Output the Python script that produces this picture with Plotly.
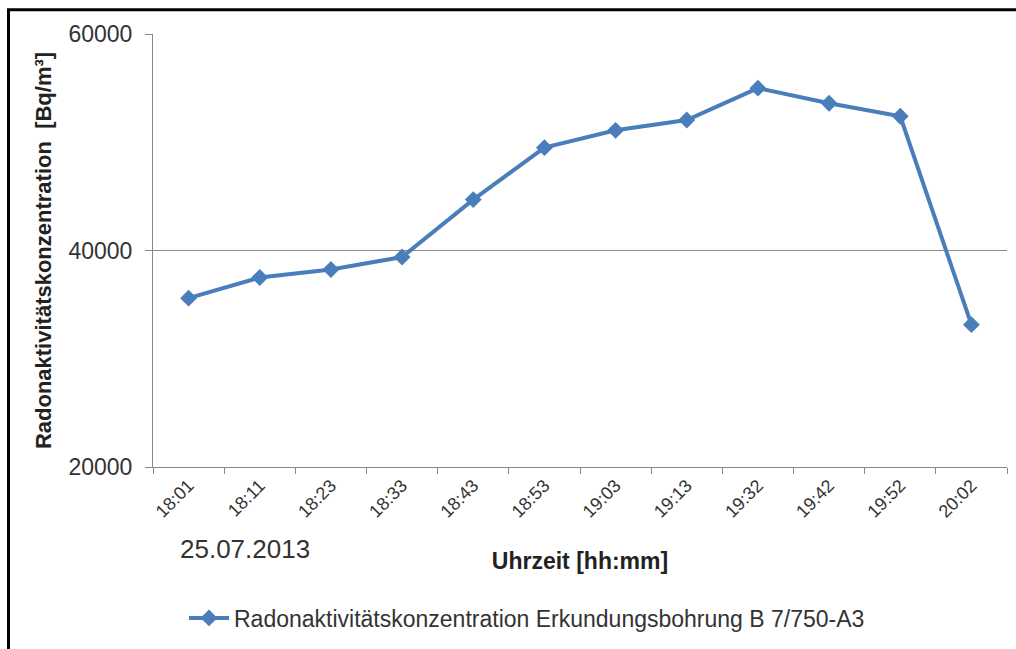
import plotly.graph_objects as go

# Measurement times (hh:mm) on 25.07.2013
times = ["18:01", "18:11", "18:23", "18:33", "18:43", "18:53",
         "19:03", "19:13", "19:32", "19:42", "19:52", "20:02"]
# Radon activity concentration in Bq/m³
radon = [35600, 37500, 38250, 39400, 44700, 49500,
         51100, 52050, 55000, 53600, 52400, 33150]

series_name = "Radonaktivitätskonzentration Erkundungsbohrung B 7/750-A3"
y_ticks = [20000, 40000, 60000]

W, H = 1016, 649
L, R, T, B = 153, 9, 34, 179
pw, ph = W - L - R, H - T - B


def px(x):
    return (x - L) / pw


def py(y):
    return (H - B - y) / ph


FONT = "Arial, Liberation Sans, sans-serif"
BLUE = "#4a7ebb"

fig = go.Figure()
fig.add_trace(go.Scatter(
    x=times, y=radon, mode="lines+markers", name=series_name,
    line=dict(color=BLUE, width=4),
    marker=dict(symbol="diamond", size=13, color=BLUE),
))

fig.update_layout(
    width=W, height=H,
    margin=dict(l=L, r=R, t=T, b=B, pad=0),
    paper_bgcolor="white", plot_bgcolor="white",
    font=dict(family=FONT, color="#333333"),
    showlegend=True,
    legend=dict(orientation="h", x=px(184), xanchor="left",
                y=py(622), yanchor="middle",
                font=dict(size=23, color="#333333", family=FONT),
                itemwidth=40, bgcolor="rgba(0,0,0,0)"),
    xaxis=dict(
        type="category", tickson="boundaries", ticks="outside",
        ticklen=6, tickcolor="#888888", tickwidth=1,
        showline=True, linecolor="#888888", linewidth=1,
        showgrid=False, tickangle=-45,
        tickfont=dict(size=18, color="#333333"),
        range=[-0.5, len(times) - 0.5],
        title=dict(text="<b>Uhrzeit [hh:mm]</b>", font=dict(size=23, color="#222222"),
                   standoff=32),
    ),
    yaxis=dict(
        range=[20000, 60000], tickvals=y_ticks,
        ticktext=[str(v) for v in y_ticks],
        ticks="outside", ticklen=7, tickcolor="#888888",
        ticklabelstandoff=8,
        showline=True, linecolor="#888888", linewidth=1,
        showgrid=True, gridcolor="#8c8c8c", gridwidth=1,
        zeroline=False,
        tickfont=dict(size=23, color="#333333"),
        title=dict(text="<b>Radonaktivitätskonzentration  [Bq/m³]</b>",
                   font=dict(size=22, color="#222222"), standoff=10),
    ),
)

# date note below the first time labels
fig.add_annotation(
    text="25.07.2013", xref="paper", yref="paper",
    x=px(178), y=py(553), xanchor="left", yanchor="middle",
    showarrow=False, font=dict(size=26, color="#333333", family=FONT),
)

# chart frame (top and left edges visible)
fig.add_shape(
    type="rect", xref="paper", yref="paper",
    x0=px(8.5), x1=px(W + 20), y0=py(H + 20), y1=py(9.5),
    line=dict(color="black", width=3), fillcolor="rgba(0,0,0,0)",
    layer="above",
)

fig.write_html("out.html")
